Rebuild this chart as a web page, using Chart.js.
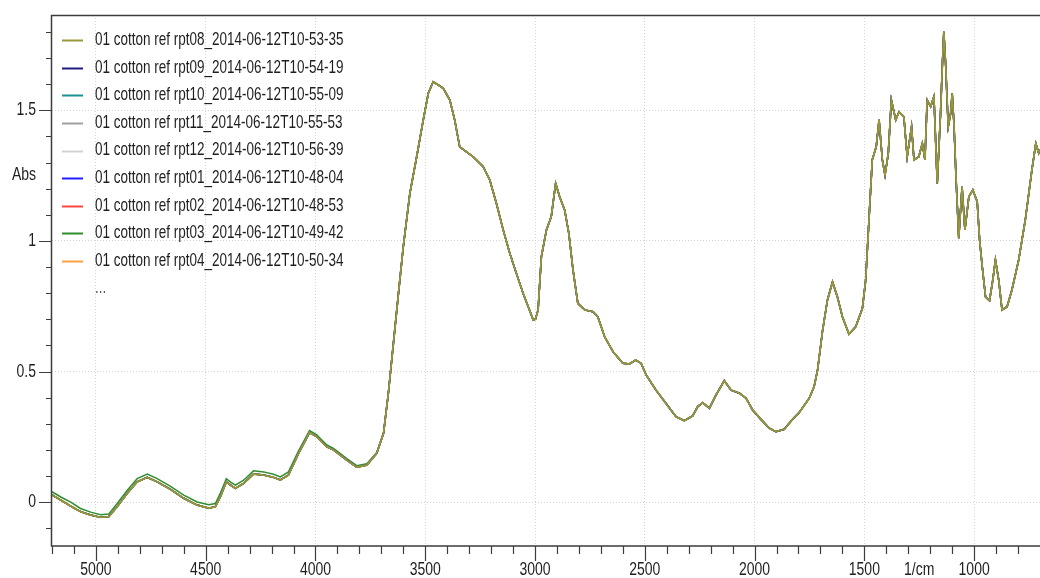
<!DOCTYPE html>
<html>
<head>
<meta charset="utf-8">
<script src="https://cdn.jsdelivr.net/npm/chart.js@4.4.1/dist/chart.umd.min.js"></script>
<style>
  html, body { margin: 0; padding: 0; background: #fff; }
  canvas { display: block; }
</style>
</head>
<body>
<canvas id="spectrum" width="1040" height="578"></canvas>
<script>
// wavenumber axis (1/cm)
const wavenumbers = [
  5200, 5160, 5115, 5070, 5024, 4979, 4941, 4903, 4857, 4812,
  4766, 4721, 4660, 4600, 4539, 4486, 4456, 4433, 4406, 4388,
  4365, 4327, 4282, 4236, 4191, 4160, 4123, 4077, 4027, 3994,
  3979, 3948, 3918, 3857, 3812, 3766, 3721, 3690, 3668, 3645,
  3622, 3600, 3570, 3539, 3509, 3486, 3464, 3441, 3418, 3388,
  3366, 3343, 3312, 3282, 3236, 3206, 3176, 3145, 3115, 3085,
  3054, 3031, 3008, 2998, 2986, 2971, 2948, 2926, 2906, 2888,
  2865, 2846, 2827, 2805, 2774, 2736, 2714, 2683, 2645, 2600,
  2570, 2542, 2517, 2494, 2449, 2403, 2358, 2320, 2282, 2259,
  2236, 2206, 2176, 2138, 2107, 2069, 2039, 2009, 1971, 1933,
  1903, 1865, 1827, 1797, 1751, 1729, 1713, 1690, 1668, 1645,
  1623, 1600, 1570, 1539, 1509, 1494, 1479, 1464, 1446, 1433,
  1418, 1406, 1391, 1377, 1357, 1342, 1320, 1305, 1285, 1274,
  1252, 1236, 1224, 1214, 1198, 1183, 1168, 1153, 1145, 1138,
  1130, 1118, 1107, 1100, 1092, 1082, 1070, 1055, 1042, 1024,
  1006, 986, 975, 963, 948, 930, 915, 903, 888, 873,
  850, 828, 797, 767, 737, 719, 706, 700
];

// absorbance shared by most repeats (they overlap at this scale)
const absRepeats = [
  0.028, 0.008, -0.015, -0.036, -0.049, -0.058, -0.055, -0.017, 0.034, 0.078,
  0.095, 0.078, 0.049, 0.015, -0.011, -0.023, -0.017, 0.021, 0.078, 0.066,
  0.053, 0.072, 0.108, 0.104, 0.095, 0.085, 0.104, 0.187, 0.266, 0.251,
  0.238, 0.212, 0.200, 0.161, 0.134, 0.142, 0.187, 0.264, 0.417, 0.608,
  0.799, 0.978, 1.182, 1.322, 1.463, 1.565, 1.609, 1.597, 1.584, 1.539,
  1.463, 1.360, 1.341, 1.322, 1.284, 1.233, 1.144, 1.042, 0.953, 0.876,
  0.799, 0.748, 0.697, 0.700, 0.736, 0.940, 1.042, 1.093, 1.220, 1.169,
  1.118, 1.029, 0.889, 0.761, 0.736, 0.729, 0.710, 0.633, 0.576, 0.532,
  0.529, 0.544, 0.532, 0.487, 0.429, 0.378, 0.327, 0.312, 0.330, 0.366,
  0.381, 0.359, 0.410, 0.465, 0.429, 0.417, 0.398, 0.353, 0.317, 0.283,
  0.270, 0.279, 0.317, 0.343, 0.398, 0.442, 0.506, 0.659, 0.774, 0.843,
  0.786, 0.710, 0.643, 0.672, 0.742, 0.850, 1.080, 1.310, 1.360, 1.463,
  1.310, 1.252, 1.335, 1.539, 1.463, 1.494, 1.475, 1.322, 1.437, 1.310,
  1.322, 1.373, 1.310, 1.539, 1.514, 1.552, 1.220, 1.488, 1.667, 1.800,
  1.680, 1.437, 1.488, 1.565, 1.450, 1.233, 1.010, 1.207, 1.042, 1.169,
  1.195, 1.150, 1.003, 0.901, 0.786, 0.771, 0.850, 0.927, 0.850, 0.736,
  0.748, 0.812, 0.927, 1.080, 1.271, 1.373, 1.336, 1.350
];

// rpt03 sits a little higher above 3700 1/cm
const absRpt03 = [
  0.040, 0.020, 0.000, -0.024, -0.038, -0.048, -0.045, -0.005, 0.046, 0.090,
  0.108, 0.090, 0.061, 0.027, 0.001, -0.010, -0.005, 0.035, 0.090, 0.078,
  0.065, 0.084, 0.120, 0.116, 0.107, 0.097, 0.116, 0.197, 0.274, 0.258,
  0.245, 0.219, 0.206, 0.167, 0.140, 0.147, 0.190, 0.264, 0.417, 0.608,
  0.799, 0.978, 1.182, 1.322, 1.463, 1.565, 1.609, 1.597, 1.584, 1.539,
  1.463, 1.360, 1.341, 1.322, 1.284, 1.233, 1.144, 1.042, 0.953, 0.876,
  0.799, 0.748, 0.697, 0.700, 0.736, 0.940, 1.042, 1.093, 1.220, 1.169,
  1.118, 1.029, 0.889, 0.761, 0.736, 0.729, 0.710, 0.633, 0.576, 0.532,
  0.529, 0.544, 0.532, 0.487, 0.429, 0.378, 0.327, 0.312, 0.330, 0.366,
  0.381, 0.359, 0.410, 0.465, 0.429, 0.417, 0.398, 0.353, 0.317, 0.283,
  0.270, 0.279, 0.317, 0.343, 0.398, 0.442, 0.506, 0.659, 0.774, 0.843,
  0.786, 0.710, 0.643, 0.672, 0.742, 0.850, 1.080, 1.310, 1.360, 1.463,
  1.310, 1.252, 1.335, 1.539, 1.463, 1.494, 1.475, 1.322, 1.437, 1.310,
  1.322, 1.373, 1.310, 1.539, 1.514, 1.552, 1.220, 1.488, 1.667, 1.800,
  1.680, 1.437, 1.488, 1.565, 1.450, 1.233, 1.010, 1.207, 1.042, 1.169,
  1.195, 1.150, 1.003, 0.901, 0.786, 0.771, 0.850, 0.927, 0.850, 0.736,
  0.748, 0.812, 0.927, 1.080, 1.271, 1.373, 1.336, 1.350
];

const seriesNames = [
  '01 cotton ref rpt08_2014-06-12T10-53-35',
  '01 cotton ref rpt09_2014-06-12T10-54-19',
  '01 cotton ref rpt10_2014-06-12T10-55-09',
  '01 cotton ref rpt11_2014-06-12T10-55-53',
  '01 cotton ref rpt12_2014-06-12T10-56-39',
  '01 cotton ref rpt01_2014-06-12T10-48-04',
  '01 cotton ref rpt02_2014-06-12T10-48-53',
  '01 cotton ref rpt03_2014-06-12T10-49-42',
  '01 cotton ref rpt04_2014-06-12T10-50-34'
];
const seriesValues = [
  absRepeats, absRepeats, absRepeats, absRepeats, absRepeats,
  absRepeats, absRepeats, absRpt03, absRepeats
];
const seriesColors = [
  '#9a9836', '#1c1c80', '#1e9090', '#a0a0a0', '#d2d2d2',
  '#1f1fff', '#ff4444', '#2e8e2e', '#ffa040'
];

const xMajorTicks = [5000, 4500, 4000, 3500, 3000, 2500, 2000, 1500, 1000];
const yMajorTicks = [0, 0.5, 1, 1.5];
const yTickLabels = ['0', '0.5', '1', '1.5'];

const TEXT = '#1e1e1e';
const AXIS = '#3c3c3c';
const STRETCH = 1.3; // the reference text is drawn tall and narrow

function tallText(ctx, str, x, y, align) {
  ctx.save();
  ctx.translate(x, y);
  ctx.scale(1, STRETCH);
  ctx.textAlign = align;
  ctx.textBaseline = 'middle';
  ctx.fillText(str, 0, 0);
  ctx.restore();
}

// axes, ticks, titles and the legend are drawn here from the chart's own scales
const spectrumFrame = {
  id: 'spectrumFrame',
  afterDraw(chart) {
    const { ctx, chartArea: area, scales: { x, y } } = chart;
    ctx.save();

    // frame
    ctx.strokeStyle = AXIS;
    ctx.lineWidth = 1.5;
    ctx.beginPath();
    ctx.moveTo(area.right, area.top + 0.5);
    ctx.lineTo(area.left - 0.5, area.top + 0.5);
    ctx.lineTo(area.left - 0.5, area.bottom);
    ctx.lineTo(area.right, area.bottom);
    ctx.stroke();

    // x ticks every 100, long at every 500
    ctx.lineWidth = 1.2;
    ctx.beginPath();
    for (let v = 5200; v >= 700; v -= 100) {
      const px = Math.round(x.getPixelForValue(v)) + 0.5;
      if (px < area.left - 1 || px > area.right) continue;
      const len = v % 500 === 0 ? 15 : 8;
      ctx.moveTo(px, area.bottom);
      ctx.lineTo(px, area.bottom + len);
    }
    // y ticks every 0.1, long at every 0.5
    for (let i = -1; i <= 18; i++) {
      const v = i / 10;
      const py = Math.round(y.getPixelForValue(v)) + 0.5;
      if (py < area.top || py > area.bottom) continue;
      const len = i % 5 === 0 ? 13 : 6;
      ctx.moveTo(area.left, py);
      ctx.lineTo(area.left - len, py);
    }
    ctx.stroke();

    // tick labels
    ctx.fillStyle = TEXT;
    ctx.font = '14px "Liberation Sans", Arial, sans-serif';
    xMajorTicks.forEach(v => {
      tallText(ctx, String(v), x.getPixelForValue(v), area.bottom + 24, 'center');
    });
    yMajorTicks.forEach((v, i) => {
      tallText(ctx, yTickLabels[i], area.left - 16, y.getPixelForValue(v), 'right');
    });

    // axis titles
    const unitX = (x.getPixelForValue(1500) + x.getPixelForValue(1000)) / 2;
    tallText(ctx, '1/cm', unitX, area.bottom + 24, 'center');
    const absY = (y.getPixelForValue(1) + y.getPixelForValue(1.5)) / 2 - 1;
    tallText(ctx, 'Abs', 12, absY, 'left');

    // legend
    ctx.font = '13.5px "Liberation Sans", Arial, sans-serif';
    const rowTop = 40.2, rowStep = 27.58;
    chart.data.datasets.forEach((ds, i) => {
      const ry = rowTop + i * rowStep;
      ctx.strokeStyle = ds.borderColor;
      ctx.lineWidth = 2;
      ctx.beginPath();
      ctx.moveTo(62, Math.round(ry) + 0.5);
      ctx.lineTo(83, Math.round(ry) + 0.5);
      ctx.stroke();
      ctx.fillStyle = TEXT;
      tallText(ctx, ds.label, 95, ry, 'left');
    });
    ctx.fillStyle = '#555';
    tallText(ctx, '...', 95, rowTop + seriesNames.length * rowStep, 'left');

    ctx.restore();
  }
};

const datasets = seriesNames.map((name, i) => ({
  label: name,
  data: wavenumbers.map((w, k) => ({ x: w, y: seriesValues[i][k] })),
  borderColor: seriesColors[i],
  backgroundColor: seriesColors[i],
  borderWidth: i === 0 ? 1.8 : 1.5,
  pointRadius: 0,
  tension: 0,
  fill: false
}));

const isMultiple = (v, step) => Math.abs(v / step - Math.round(v / step)) < 1e-6;

new Chart(document.getElementById('spectrum').getContext('2d'), {
  type: 'line',
  data: { datasets: datasets },
  options: {
    responsive: false,
    animation: false,
    devicePixelRatio: 1,
    layout: { padding: { top: 15, right: 0, left: 0, bottom: 0 } },
    plugins: {
      legend: { display: false },
      tooltip: { enabled: false }
    },
    scales: {
      x: {
        type: 'linear',
        reverse: true,
        min: 700,
        max: 5200,
        afterFit: (scale) => { scale.height = 32; },
        ticks: { display: false, stepSize: 100 },
        grid: {
          drawTicks: false,
          lineWidth: 1,
          color: (c) => (c.tick && isMultiple(c.tick.value, 500)) ? '#d4d4d4' : 'rgba(0,0,0,0)'
        },
        border: { display: false, dash: [1, 2] }
      },
      y: {
        type: 'linear',
        min: -0.1676,
        max: 1.8645,
        afterFit: (scale) => { scale.width = 52; },
        ticks: { display: false, stepSize: 0.5 },
        grid: {
          drawTicks: false,
          lineWidth: 1,
          color: (c) => (c.tick && isMultiple(c.tick.value, 0.5)) ? '#d4d4d4' : 'rgba(0,0,0,0)'
        },
        border: { display: false, dash: [1, 2] }
      }
    }
  },
  plugins: [spectrumFrame]
});
</script>
</body>
</html>
